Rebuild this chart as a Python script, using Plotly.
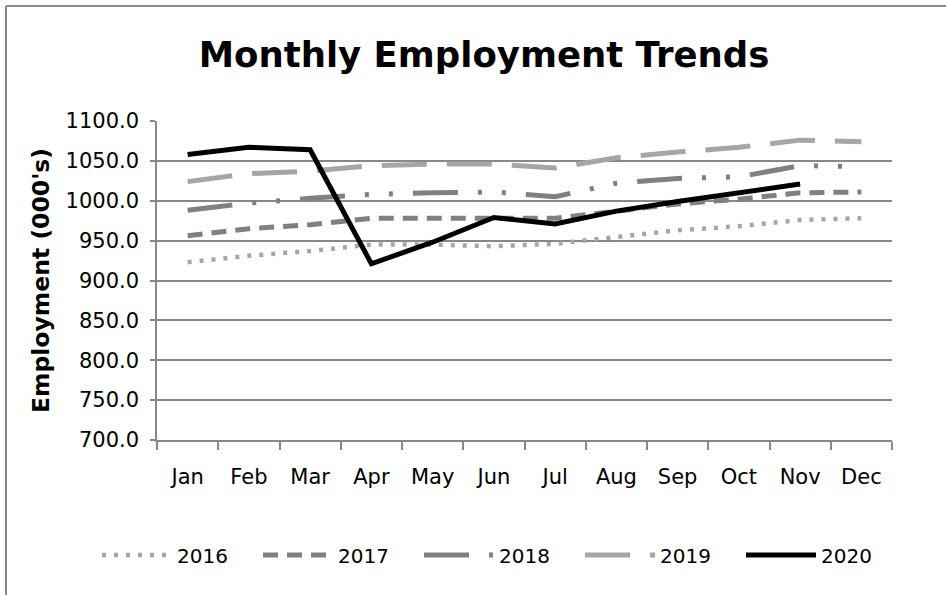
import plotly.graph_objects as go

months = ["Jan", "Feb", "Mar", "Apr", "May", "Jun", "Jul", "Aug", "Sep", "Oct", "Nov", "Dec"]
years = ["2016", "2017", "2018", "2019", "2020"]

emp_2016 = [923, 931, 937, 945, 945, 943, 946, 954, 963, 968, 976, 978]
emp_2017 = [956, 965, 970, 978, 978, 978, 978, 987, 996, 1002, 1010, 1011]
emp_2018 = [988, 997, 1003, 1008, 1010, 1011, 1005, 1022, 1028, 1030, 1044, 1043]
emp_2019 = [1024, 1034, 1037, 1044, 1046, 1046, 1041, 1054, 1061, 1067, 1076, 1074]
emp_2020 = [1058, 1067, 1064, 921, 948, 979, 971, 987, 999, 1010, 1021, None]

y_ticks = [700, 750, 800, 850, 900, 950, 1000, 1050, 1100]

series = [emp_2016, emp_2017, emp_2018, emp_2019, emp_2020]
colors = ["#A6A6A6", "#808080", "#808080", "#A6A6A6", "#000000"]
widths = [4.5, 5, 5, 5, 5]
dashes = ["4px,8px", "15px,9px", "45px,20px,4px,20px,4px,20px", "45px,20px", "solid"]

FONT = "DejaVu Sans"
GRID = "#888888"

fig = go.Figure()
for name, vals, c, w, d in zip(years, series, colors, widths, dashes):
    fig.add_trace(go.Scatter(
        x=months, y=vals, name=name, mode="lines",
        line=dict(color=c, width=w, dash=d),
        connectgaps=False,
    ))

L, R, T, B = 157, 54, 121, 155
W, H = 946, 595
pw, ph = W - L - R, H - T - B

def px_x(x):
    return (x - L) / pw

def px_y(y):
    return (H - B - y) / ph

fig.update_layout(
    width=W, height=H,
    margin=dict(l=L, r=R, t=T, b=B, pad=0),
    paper_bgcolor="white", plot_bgcolor="white",
    font=dict(family=FONT, size=21, color="black"),
    title=dict(
        text="<b>Monthly Employment Trends</b>",
        font=dict(family=FONT, size=35.5, color="black"),
        x=484 / W, xanchor="center", y=1 - 55 / H, yanchor="middle",
    ),
    showlegend=True,
    legend=dict(
        orientation="h", x=px_x(97), xanchor="left", y=px_y(555), yanchor="middle",
        font=dict(family=FONT, size=20, color="black"),
        itemwidth=70, entrywidth=76, traceorder="normal",
    ),
    xaxis=dict(
        type="category", categoryorder="array", categoryarray=months,
        range=[-0.5, 11.5],
        showgrid=False, showline=True, linecolor=GRID, linewidth=1.5,
        ticks="outside", ticklen=8, tickcolor=GRID, tickwidth=1.5,
        tickson="boundaries", ticklabelstandoff=17,
        tickfont=dict(family=FONT, size=21, color="black"),
        fixedrange=True,
    ),
    yaxis=dict(
        range=[700, 1100], tickvals=y_ticks, tickformat=".1f",
        showgrid=True, gridcolor=GRID, gridwidth=1.5,
        showline=True, linecolor=GRID, linewidth=1.5,
        ticks="outside", ticklen=5, tickcolor=GRID, tickwidth=1.5,
        ticklabelstandoff=7, zeroline=False,
        tickfont=dict(family=FONT, size=21, color="black"),
        title=dict(text="<b>Employment (000's)</b>", font=dict(family=FONT, size=23.5, color="black"), standoff=9),
        fixedrange=True,
    ),
    shapes=[
        dict(type="line", xref="paper", yref="paper", x0=px_x(6), x1=px_x(W + 5), y0=px_y(6), y1=px_y(6),
             line=dict(color=GRID, width=2)),
        dict(type="line", xref="paper", yref="paper", x0=px_x(6), x1=px_x(6), y0=px_y(6), y1=px_y(H + 5),
             line=dict(color=GRID, width=2)),
    ],
)

fig.write_html("out.html", include_plotlyjs=True,
               config={"displayModeBar": False},
               post_script="document.body.style.margin='0px';")
